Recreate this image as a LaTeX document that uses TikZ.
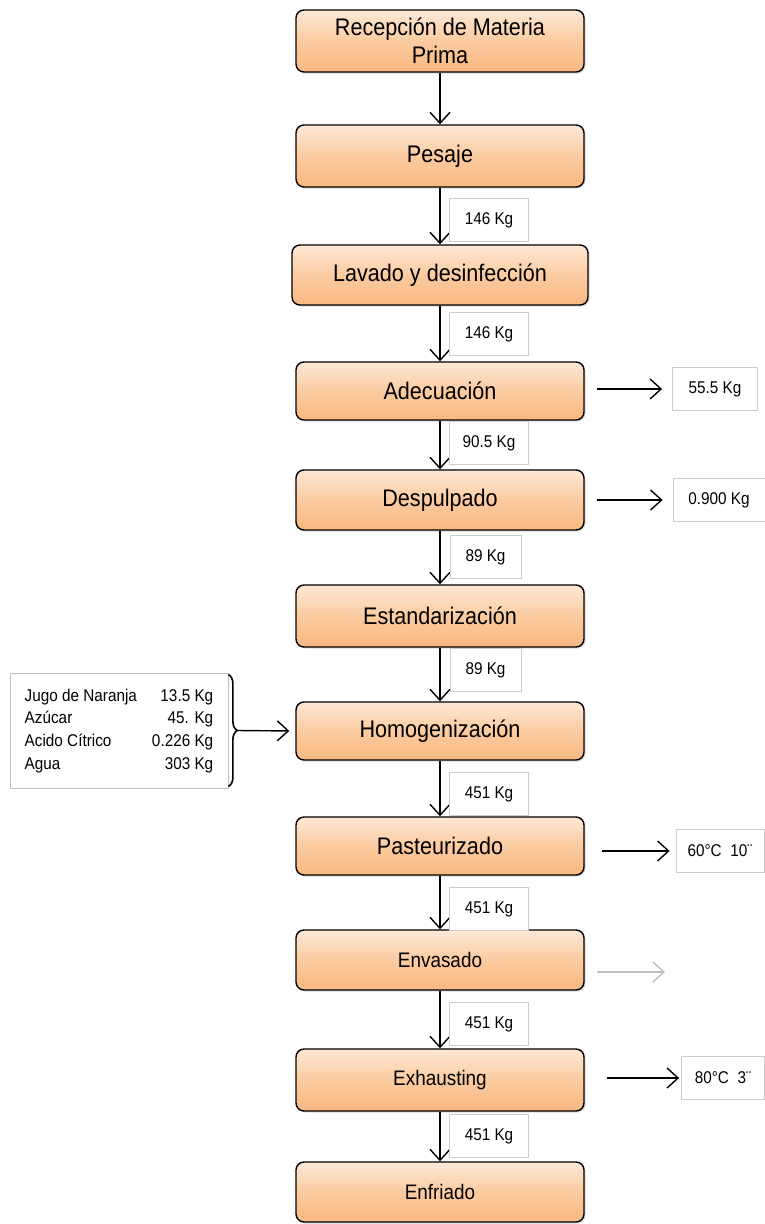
\documentclass[tikz,border=0pt]{standalone}
\usepackage{fontspec}
\setmainfont{Liberation Sans}
\newfontfamily\stagefont{Liberation Sans}[FakeStretch=0.9]
\usetikzlibrary{arrows.meta,shadows,decorations.pathreplacing}
\definecolor{peachtop}{RGB}{253,233,214}
\definecolor{peachmid}{RGB}{251,203,160}
\definecolor{peachbot}{RGB}{249,184,128}
\tikzset{
  stage/.style={draw=black, line width=1.4pt, rounded corners=8pt,
    minimum width=288pt, minimum height=60pt, inner sep=0pt, align=center,
    top color=peachtop, bottom color=peachbot, middle color=peachmid,
    drop shadow={shadow xshift=1.5pt, shadow yshift=-1.5pt, opacity=0.3},
    font=\stagefont\fontsize{24}{28}\selectfont},
  massbox/.style={draw=gray!40, line width=0.8pt, fill=white,
    minimum width=79pt, minimum height=43pt, inner sep=0pt,
    font=\stagefont\fontsize{17}{20}\selectfont},
  flow/.style={-{Straight Barb[length=11pt,width=20pt]}, line width=1.4pt},
}
\begin{document}
\begin{tikzpicture}[x=1pt, y=-1pt]
  \useasboundingbox (0,0) rectangle (765,1224);
  % main line of stages
  \node[stage, minimum height=62pt] (rec) at (440,41) {Recepción de Materia\\Prima};
  \node[stage, minimum height=62pt] (pes) at (440,156) {Pesaje};
  \node[stage, minimum width=296pt] (lav) at (440,275) {Lavado y desinfección};
  \node[stage, minimum height=58pt] (ade) at (440,391) {Adecuación};
  \node[stage] (des) at (440,500) {Despulpado};
  \node[stage, minimum height=62pt] (est) at (440,616) {Estandarización};
  \node[stage, minimum height=58pt] (hom) at (440,731) {Homogenización};
  \node[stage, minimum height=58pt] (pas) at (440,846) {Pasteurizado};
  \node[stage, font=\stagefont\fontsize{21}{25}\selectfont] (env) at (440,960) {Envasado};
  \node[stage, minimum height=62pt, font=\stagefont\fontsize{21}{25}\selectfont] (exh) at (440,1080) {Exhausting};
  \node[stage, font=\stagefont\fontsize{21}{25}\selectfont] (enf) at (440,1192) {Enfriado};
  % arrows between stages
  \foreach \a/\b in {rec/pes, pes/lav, lav/ade, ade/des, des/est, est/hom,
                     hom/pas, pas/env, env/exh, exh/enf}
    \draw[flow] (\a.south) -- (\b.north);
  % masses along the line
  \node[massbox] (m1) at (489,220) {146 Kg};
  \node[massbox] (m2) at (489,334) {146 Kg};
  \node[massbox] (m3) at (489,443) {90.5 Kg};
  \node[massbox, minimum width=71pt] (m4) at (485.5,557) {89 Kg};
  \node[massbox, minimum width=71pt] (m5) at (485.5,670) {89 Kg};
  \node[massbox] (m6) at (489,794) {451 Kg};
  \node[massbox] (m7) at (489,909) {451 Kg};
  \node[massbox] (m8) at (489,1024) {451 Kg};
  \node[massbox] (m9) at (489,1136) {451 Kg};
  % outputs on the right
  \node[massbox, minimum width=85pt] (out1) at (715,389) {55.5 Kg};
  \node[massbox, minimum width=92pt] (out2) at (719,500) {0.900 Kg};
  \node[massbox, minimum width=88pt] (out3) at (720,851) {60°C\ \ 10¨};
  \node[massbox, minimum width=83pt] (out4) at (723,1078) {80°C\ \ 3¨};
  \coordinate (envout) at (665,972);
  \draw[flow, shorten <=12pt, shorten >=10pt] (ade.east |- out1.west) -- (out1.west);
  \draw[flow, shorten <=12pt, shorten >=10pt] (des.east |- out2.west) -- (out2.west);
  \draw[flow, shorten <=17pt, shorten >=6pt] (pas.east |- out3.west) -- (out3.west);
  \draw[flow, gray!50, shorten <=12pt] (env.east |- envout) -- (envout);
  \draw[flow, shorten <=22pt, shorten >=2pt] (exh.east |- out4.west) -- (out4.west);
  % ingredients added at homogenization
  \node[draw=gray!50, line width=0.8pt, minimum width=218pt, minimum height=115pt,
        inner sep=0pt, font=\stagefont\fontsize{17}{22.7}\selectfont] (ins) at (119,730.5)
    {\begin{tabular}{@{}l@{\hspace{15pt}}r@{}}
       Jugo de Naranja & 13.5 Kg\\
       Azúcar & 45. Kg\\
       Acido Cítrico & 0.226 Kg\\
       Agua & 303 Kg
     \end{tabular}\hspace{8pt}};
  \draw[decorate, decoration={brace, amplitude=9pt}, line width=1.6pt]
    ([yshift=-2pt]ins.north east) -- ([yshift=2pt]ins.south east);
  \draw[flow, shorten >=6pt] ([xshift=9pt]ins.east) -- (hom.west);
\end{tikzpicture}
\end{document}
